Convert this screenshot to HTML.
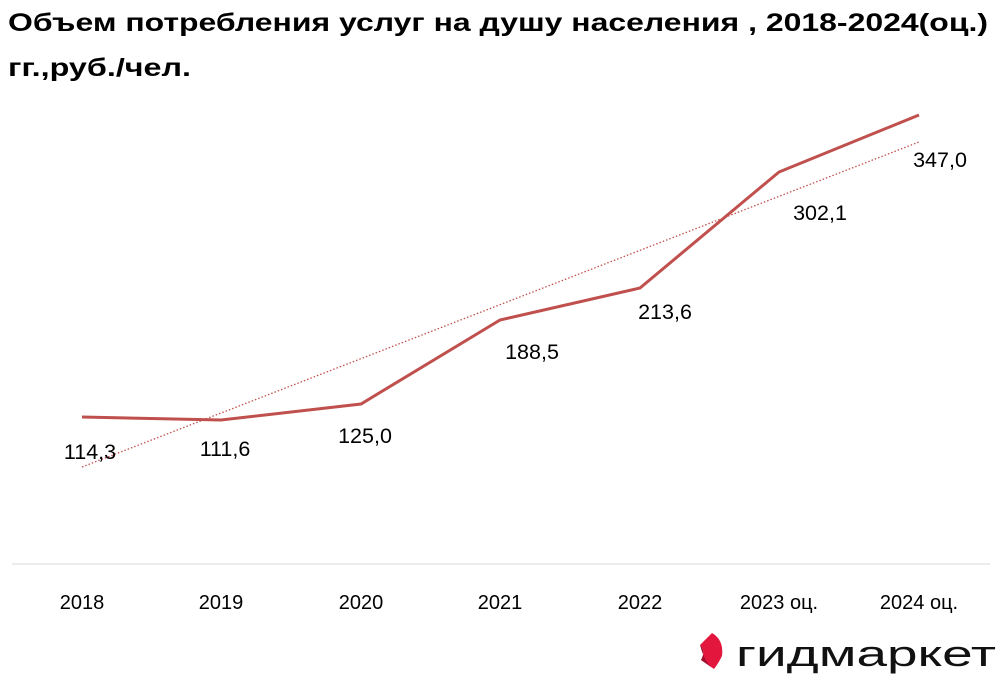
<!DOCTYPE html>
<html><head><meta charset="utf-8"><style>
html,body{margin:0;padding:0;background:#fff;width:1000px;height:676px;overflow:hidden}
</style></head><body>
<svg width="1000" height="676" xmlns="http://www.w3.org/2000/svg" font-family="Liberation Sans, DejaVu Sans, sans-serif">
<text x="8" y="31" font-size="25" font-weight="bold" fill="#000" textLength="980" lengthAdjust="spacingAndGlyphs">Объем потребления услуг на душу населения , 2018-2024(оц.)</text>
<text x="8" y="76" font-size="25" font-weight="bold" fill="#000" textLength="183" lengthAdjust="spacingAndGlyphs">гг.,руб./чел.</text>
<line x1="12" y1="564" x2="990" y2="564" stroke="#d9d9d9" stroke-width="1"/>
<line x1="82" y1="467" x2="919" y2="142" stroke="#c0504d" stroke-width="1.3" stroke-dasharray="1.5,2"/>
<polyline points="82,417 221,420 361,404 500,320 640,288 779,172 919,115" fill="none" stroke="#c0504d" stroke-width="3"/>
<g font-size="21.5" fill="#000" text-anchor="middle">
<text x="90" y="459">114,3</text>
<text x="225" y="456">111,6</text>
<text x="365" y="443">125,0</text>
<text x="532" y="359">188,5</text>
<text x="665" y="319">213,6</text>
<text x="820" y="220">302,1</text>
<text x="940" y="167">347,0</text>
</g>
<g font-size="20" fill="#000" text-anchor="middle">
<text x="82" y="609">2018</text>
<text x="221" y="609">2019</text>
<text x="361" y="609">2020</text>
<text x="500" y="609">2021</text>
<text x="640" y="609">2022</text>
<text x="779" y="609">2023 оц.</text>
<text x="919" y="609">2024 оц.</text>
</g>
<path d="M712,633 Q724,640 722,656 Q718,664 714,669 L701,660 Q706,651 700,645 Z" fill="#e3173e"/>
<path d="M700,645 Q706,651 701,660 L714,669 Q705,664 700,645 Z" fill="#9b1030"/>
<text x="736" y="666" font-size="36" fill="#111" textLength="260" lengthAdjust="spacingAndGlyphs">гидмаркет</text>
</svg>
</body></html>
